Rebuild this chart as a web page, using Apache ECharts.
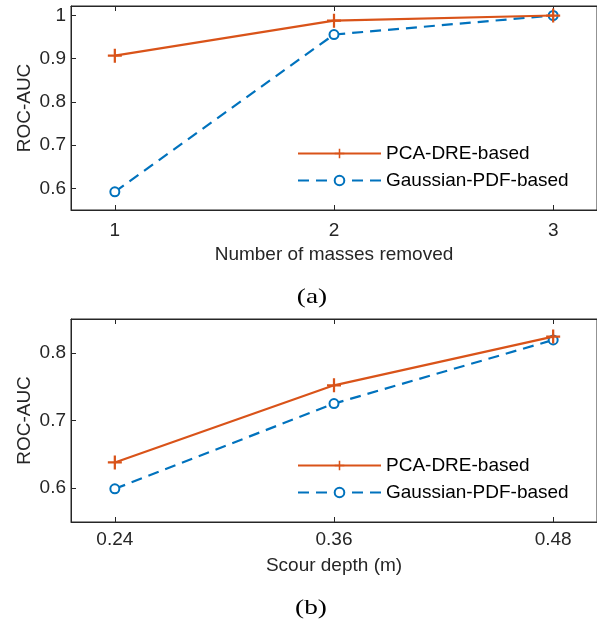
<!DOCTYPE html>
<html>
<head>
<meta charset="utf-8">
<script src="https://cdn.jsdelivr.net/npm/echarts@6/dist/echarts.min.js"></script>
<style>
  html, body {margin: 0; padding: 0; background: #fff;}
  #chart {width: 597px; height: 626px;}
</style>
</head>
<body>
<div id="chart"></div>
<script>
// (a) number of masses removed
const massesRemoved = [1, 2, 3];
const pcaMasses = [0.907, 0.988, 1.0];
const gaussMasses = [0.592, 0.956, 1.0];
const yTicksA = [0.6, 0.7, 0.8, 0.9, 1];

// (b) scour depth
const scourDepth = [0.24, 0.36, 0.48];
const pcaScour = [0.638, 0.752, 0.824];
const gaussScour = [0.599, 0.725, 0.819];
const yTicksB = [0.6, 0.7, 0.8];

const seriesNames = ["PCA-DRE-based", "Gaussian-PDF-based"];

const zip = (xs, ys) => xs.map((x, i) => [x, ys[i]]);

const axisColor = "#262626";
const font = "Liberation Sans";
const fontSize = 19;
const orange = "#D95319";
const blue = "#0072BD";
const plusPath = "path://M-1.6,-10H1.6V-1.6H10V1.6H1.6V10H-1.6V1.6H-10V-1.6H-1.6Z";

function xAxisPair(gridIndex, min, max, ticks, name, fmt, margin, nameGap) {
  return [
    {
      type: "value", gridIndex: gridIndex, min: min, max: max, position: "bottom",
      name: name, nameLocation: "middle", nameGap: nameGap,
      nameTextStyle: {color: axisColor, fontFamily: font, fontSize: fontSize},
      axisLine: {show: true, lineStyle: {color: axisColor, width: 1}},
      axisTick: {show: true, inside: true, length: 5, customValues: ticks, lineStyle: {color: axisColor}},
      axisLabel: {customValues: ticks, formatter: fmt, color: axisColor, fontFamily: font, fontSize: fontSize, margin: margin},
      splitLine: {show: false},
    },
    {
      type: "value", gridIndex: gridIndex, min: min, max: max, position: "top",
      axisLine: {show: true, lineStyle: {color: axisColor, width: 1}},
      axisTick: {show: true, inside: true, length: 5, customValues: ticks, lineStyle: {color: axisColor}},
      axisLabel: {show: false},
      splitLine: {show: false},
    },
  ];
}

function yAxisFor(gridIndex, min, max, ticks) {
  return {
    type: "value", gridIndex: gridIndex, min: min, max: max,
    name: "ROC-AUC", nameLocation: "middle", nameGap: 37, nameMoveOverlap: false,
    nameTextStyle: {color: axisColor, fontFamily: font, fontSize: fontSize},
    axisLine: {show: true, lineStyle: {color: axisColor, width: 1}},
    axisTick: {show: true, inside: true, length: 5, customValues: ticks, lineStyle: {color: axisColor}},
    axisLabel: {customValues: ticks, formatter: (v) => String(Math.round(v * 10) / 10), color: axisColor, fontFamily: font, fontSize: fontSize, margin: 5},
    splitLine: {show: false},
  };
}

function lineSeries(name, data, xi, yi) {
  const isPca = name === seriesNames[0];
  const color = isPca ? orange : blue;
  return {
    name: name, type: "line", data: data, xAxisIndex: xi, yAxisIndex: yi,
    z: isPca ? 4 : 3,
    symbol: isPca ? plusPath : "emptyCircle",
    symbolSize: isPca ? 14 : 9,
    showAllSymbol: true,
    color: color,
    lineStyle: {color: color, width: 2.2, type: isPca ? "solid" : [11, 7]},
    itemStyle: {color: color, borderColor: color, borderWidth: isPca ? 0 : 2},
    emphasis: {disabled: true},
  };
}

function legendFor(top, gap) {
  return {
    left: 297, top: top, orient: "vertical", itemGap: gap, padding: 0,
    itemWidth: 83, itemHeight: 12,
    data: seriesNames,
    textStyle: {color: "#000", fontFamily: font, fontSize: fontSize},
    selectedMode: false,
  };
}

const chart = echarts.init(document.getElementById("chart"), null, {renderer: "canvas"});
const fmtA = (v) => String(Math.round(v));
const fmtB = (v) => v.toFixed(2);

const xa = xAxisPair(0, 0.8, 3.2, massesRemoved, "Number of masses removed", fmtA, 11, 35);
const xb = xAxisPair(1, 0.216, 0.504, scourDepth, "Scour depth (m)", fmtB, 8, 34);

chart.setOption({
  backgroundColor: "#fff",
  animation: false,
  grid: [
    {left: 71, top: 6, height: 204, right: -11, show: true, borderColor: axisColor, borderWidth: 1},
    {left: 71, top: 319, height: 203, right: -11, show: true, borderColor: axisColor, borderWidth: 1},
  ],
  xAxis: [xa[0], xa[1], xb[0], xb[1]],
  yAxis: [yAxisFor(0, 0.55, 1.022, yTicksA), yAxisFor(1, 0.55, 0.85, yTicksB)],
  legend: [legendFor(144, 8), legendFor(456, 8)],
  series: [
    lineSeries(seriesNames[0], zip(massesRemoved, pcaMasses), 0, 0),
    lineSeries(seriesNames[1], zip(massesRemoved, gaussMasses), 0, 0),
    lineSeries(seriesNames[0], zip(scourDepth, pcaScour), 2, 1),
    lineSeries(seriesNames[1], zip(scourDepth, gaussScour), 2, 1),
  ],
  graphic: [
    {type: "text", x: 312, y: 297, scaleX: 1.3,
      style: {text: "(a)", fill: "#000", font: "21px 'Liberation Serif'", align: "center", verticalAlign: "middle"}},
    {type: "text", x: 311, y: 608, scaleX: 1.3,
      style: {text: "(b)", fill: "#000", font: "21px 'Liberation Serif'", align: "center", verticalAlign: "middle"}},
  ],
});
</script>
</body>
</html>
